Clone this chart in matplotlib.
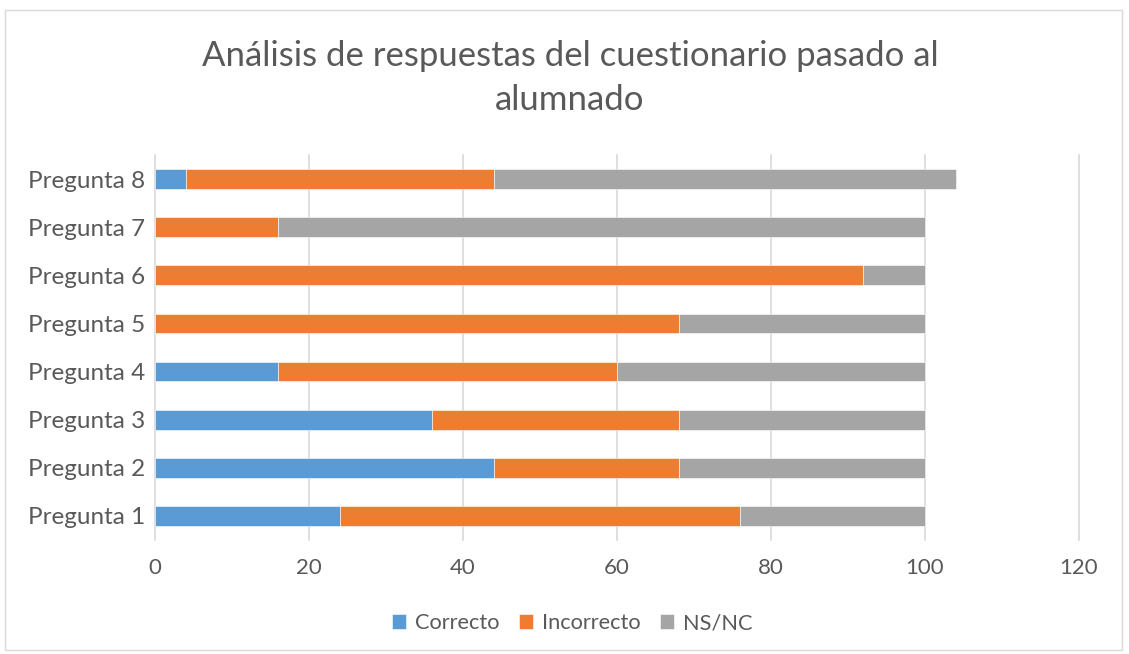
import matplotlib
matplotlib.use("Agg")
import matplotlib.pyplot as plt
from matplotlib.patches import Rectangle
import numpy as np

categories = ["Pregunta 1", "Pregunta 2", "Pregunta 3", "Pregunta 4",
              "Pregunta 5", "Pregunta 6", "Pregunta 7", "Pregunta 8"]
correcto = [24, 44, 36, 16, 0, 0, 0, 4]
incorrecto = [52, 24, 32, 44, 68, 92, 16, 40]
nsnc = [24, 32, 32, 40, 32, 8, 84, 60]
series_names = ["Correcto", "Incorrecto", "NS/NC"]
colors = ["#5B9BD5", "#ED7D31", "#A5A5A5"]
xticks = [0, 20, 40, 60, 80, 100, 120]

plt.rcParams['font.family'] = ['Lato', 'DejaVu Sans']
text_color = "#595959"

fig = plt.figure(figsize=(11.29, 6.54), dpi=100)
fig.patches.append(Rectangle((5/1129, 4/654), 1117/1129, 640/654, transform=fig.transFigure,
                             fill=False, edgecolor="#D9D9D9", linewidth=1))
ax = fig.add_axes([155/1129, 1-540/654, (1079-155)/1129, 385/654])

y = np.arange(len(categories))
h = 0.41
left = np.zeros(len(categories))
for vals, name, c in zip([correcto, incorrecto, nsnc], series_names, colors):
    ax.barh(y, vals, left=left, height=h, color=c, label=name, zorder=3,
            edgecolor="white", linewidth=0.4)
    left = left + np.array(vals)

ax.set_xlim(0, 120)
ax.set_ylim(-0.5, len(categories) - 0.5)
ax.set_xticks(xticks)
ax.set_xticklabels([str(t) for t in xticks])
ax.set_yticks(y)
ax.set_yticklabels(categories)
ax.grid(axis='x', color="#D9D9D9", linewidth=1.2, zorder=0)
for gl in ax.get_xgridlines():
    gl.set_clip_on(False)
for s in ax.spines.values():
    s.set_visible(False)
ax.tick_params(axis='both', length=0, colors=text_color)
ax.tick_params(axis='x', pad=13, labelsize=16)
ax.tick_params(axis='y', pad=7, labelsize=17.5)

fig.text(570/1129, 1-56/654, "Análisis de respuestas del cuestionario pasado al",
         ha='center', va='center', fontsize=25, color=text_color)
fig.text(570/1129, 1-100/654, "alumnado",
         ha='center', va='center', fontsize=25, color=text_color)

ax.legend(loc='center', bbox_to_anchor=(572/1129, 1-623/654), bbox_transform=fig.transFigure,
          ncol=3, frameon=False, fontsize=15.7, labelcolor=text_color,
          handlelength=0.65, handleheight=0.65, handletextpad=0.4, columnspacing=0.9)

fig.savefig("out.png", dpi=100, facecolor="white")
